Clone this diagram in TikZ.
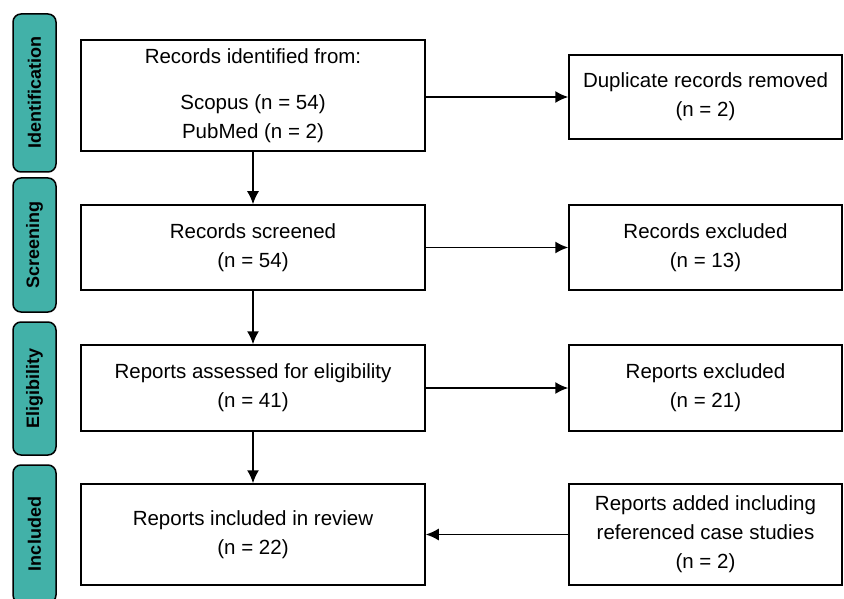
\documentclass[tikz,border=0pt]{standalone}
\usepackage{fontspec}
\setmainfont{Liberation Sans}
\usepackage{tikz}
\usetikzlibrary{positioning, arrows.meta}
\definecolor{phaseteal}{RGB}{66,177,168}

\begin{document}
\begin{tikzpicture}[x=1pt, y=-1pt,
        box/.style={draw, line width=1.5pt, align=center, font=\fontsize{20.5}{29}\selectfont, inner sep=0pt},
        leftbox/.style={box, minimum width=344pt},
        rightbox/.style={box, minimum width=273pt},
        flow/.style={-{Latex[length=13pt, width=12pt]}, line width=1.5pt},
        phase/.style={draw, line width=1.5pt, fill=phaseteal, rounded corners=8pt, minimum width=43pt, inner sep=0pt, font=\fontsize{18}{20}\selectfont\bfseries}]
        \useasboundingbox (0,0) rectangle (844,599);
        % phases
        \node [phase, minimum height=158pt] (ident) at (34.5,93) {\rotatebox{90}{Identification}};
        \node [phase, minimum height=134pt] (screen) at (34.5,245) {\rotatebox{90}{Screening}};
        \node [phase, minimum height=133pt] (elig) at (34.5,388.5) {\rotatebox{90}{Eligibility}};
        \node [phase, minimum height=138pt] (incl) at (34.5,534) {\rotatebox{90}{Included}};
        % main boxes
        \node [leftbox, minimum height=111pt] (ident box) at (253,95.5) {Records identified from:\\[17pt] Scopus (n = 54)\\ PubMed (n = 2)};
        \node [leftbox, minimum height=85pt] (screen box) at (253,247.5) {Records screened\\ (n = 54)};
        \node [leftbox, minimum height=86pt] (elig box) at (253,388) {Reports assessed for eligibility\\ (n = 41)};
        \node [leftbox, minimum height=101pt] (incl box) at (253,534.5) {Reports included in review\\ (n = 22)};
        % side boxes
        \node [rightbox, minimum height=84pt] (dup) at (705.5,97) {Duplicate records removed\\ (n = 2)};
        \node [rightbox, minimum height=85pt] (excl) at (705.5,247.5) {Records excluded\\ (n = 13)};
        \node [rightbox, minimum height=86pt] (rep excl) at (705.5,388) {Reports excluded\\ (n = 21)};
        \node [rightbox, minimum height=101pt] (added) at (705.5,534.5) {Reports added including\\ referenced case studies\\ (n = 2)};
        % arrows
        \draw [flow] (ident box) to (screen box);
        \draw [flow] (screen box) to (elig box);
        \draw [flow] (elig box) to (incl box);
        \draw [flow] (ident box.east |- dup) to (dup);
        \draw [flow] (screen box) to (excl);
        \draw [flow] (elig box) to (rep excl);
        \draw [flow] (added) to (incl box);
    \end{tikzpicture}
\end{document}
